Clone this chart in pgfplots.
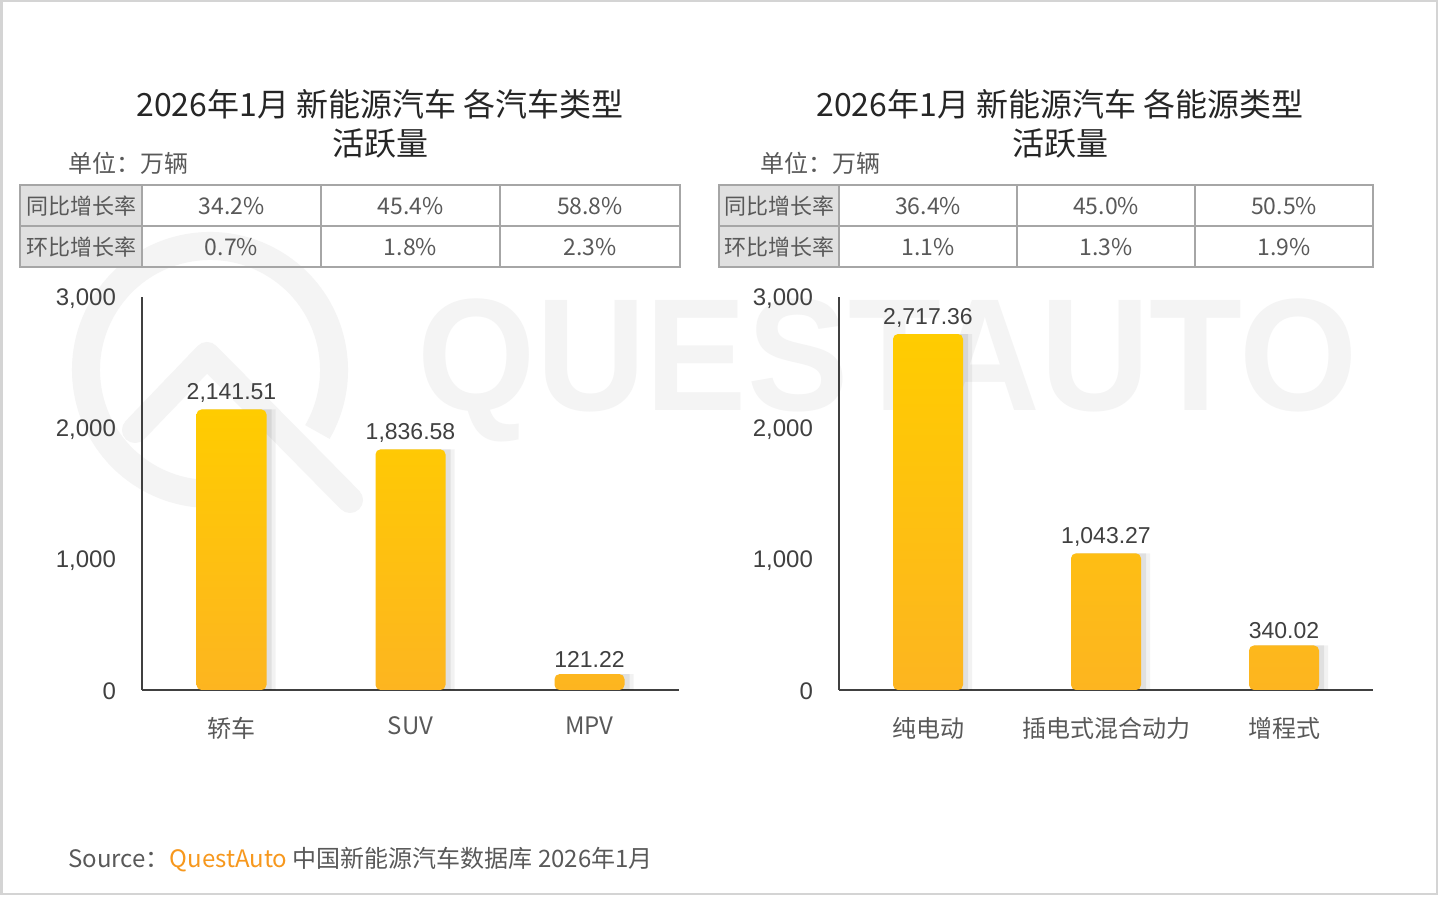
\documentclass[border=0pt]{standalone}
\usepackage{fontspec}
\usepackage{pgfplots}
\pgfplotsset{compat=1.18}
\setmainfont{Noto Sans CJK SC}
\newfontfamily\arial{Liberation Sans}
\definecolor{txt}{HTML}{595959}
\definecolor{dark}{HTML}{404040}
\definecolor{ttl}{HTML}{262626}
\definecolor{barTop}{HTML}{FFCC00}
\definecolor{barBot}{HTML}{FDB520}
\definecolor{qa}{HTML}{F7981D}
\definecolor{tline}{HTML}{A6A6A6}
\definecolor{thead}{HTML}{E0E0E0}
\definecolor{wm}{HTML}{F4F4F4}
\definecolor{frame}{HTML}{D4D4D4}

\pgfplotsset{
  chartax/.style={
    scale only axis, height=196.5pt, anchor=south west, clip=false,
    ymin=0, ymax=3000, xmin=-0.5, xmax=2.5,
    ytick={0,1000,2000,3000}, xtick={0,1,2},
    axis lines=left, axis line style={-, draw=dark, line width=0.75pt},
    major tick length=0pt,
    scaled y ticks=false,
    /pgf/number format/assume math mode=true,
    /pgf/number format/1000 sep={,},
    yticklabel style={font=\arial\fontsize{12pt}{14pt}\selectfont, text=dark, xshift=-9.5pt, yshift=-0.8pt},
    xticklabel style={font=\fontsize{12pt}{14pt}\selectfont, text=txt, yshift=-10pt},
    ybar, bar width=35pt,
  },
  shadowA/.style={fill=black, opacity=0.07, draw=none, bar shift=2.5pt, forget plot},
  shadowB/.style={fill=black, opacity=0.05, draw=none, bar shift=4.5pt, forget plot},
  mainbar/.style={draw=none, top color=barTop, bottom color=barBot, rounded corners=2.5pt, bar shift=0pt,
    nodes near coords={\pgfmathprintnumber[fixed,fixed zerofill,precision=2,1000 sep={,},assume math mode=true]{\pgfplotspointmeta}},
    every node near coord/.append style={font=\arial\fontsize{11.5pt}{13pt}\selectfont, text=dark}},
}

\begin{document}
\begin{tikzpicture}
\useasboundingbox (0,0) rectangle (720pt,448.5pt);
\fill[white] (0,0) rectangle (720pt,448.5pt);
\draw[frame, line width=1.2pt] (0.8pt,1.5pt) rectangle (718.6pt,448pt);

% watermark
\draw[wm, line width=14pt] (105pt,263.5pt) ++(-30:62pt) arc[start angle=-30, end angle=285, radius=62pt];
\draw[wm, line width=13pt, line cap=round, line join=round] (67.5pt,233.5pt) -- (103.5pt,271pt) -- (175pt,198.5pt);
\node[text=wm, font=\arial\bfseries\fontsize{80pt}{80pt}\selectfont, xscale=0.95] at (444pt,263.5pt) {QUESTAUTO};

% titles
\node[text=ttl, font=\fontsize{16pt}{19pt}\selectfont] at (190pt,396.5pt) {2026年1月 新能源汽车 各汽车类型};
\node[text=ttl, font=\fontsize{16pt}{19pt}\selectfont] at (190pt,377pt) {活跃量};
\node[text=ttl, font=\fontsize{16pt}{19pt}\selectfont] at (530pt,396.5pt) {2026年1月 新能源汽车 各能源类型};
\node[text=ttl, font=\fontsize{16pt}{19pt}\selectfont] at (530pt,377pt) {活跃量};
\node[text=txt, font=\fontsize{12pt}{14pt}\selectfont, anchor=west, inner sep=0pt] at (34pt,367pt) {单位：万辆};
\node[text=txt, font=\fontsize{12pt}{14pt}\selectfont, anchor=west, inner sep=0pt] at (380pt,367pt) {单位：万辆};

% left table
\fill[thead] (10pt,315pt) rectangle (71pt,356pt);
\draw[tline, line width=0.9pt] (10pt,315pt) rectangle (340pt,356pt);
\draw[tline, line width=0.9pt] (10pt,335.5pt) -- (340pt,335.5pt);
\foreach \x in {71,160.5,250} \draw[tline, line width=0.9pt] (\x pt,315pt) -- (\x pt,356pt);
\begin{scope}[every node/.style={text=txt, font=\fontsize{11.5pt}{13pt}\selectfont}]
\node[font=\fontsize{11pt}{13pt}\selectfont] at (40.5pt,345.5pt) {同比增长率};
\node[font=\fontsize{11pt}{13pt}\selectfont] at (40.5pt,325pt) {环比增长率};
\node at (115.75pt,345.5pt) {34.2\%};
\node at (205.25pt,345.5pt) {45.4\%};
\node at (295pt,345.5pt) {58.8\%};
\node at (115.75pt,325pt) {0.7\%};
\node at (205.25pt,325pt) {1.8\%};
\node at (295pt,325pt) {2.3\%};
\end{scope}

% right table
\fill[thead] (359.5pt,315pt) rectangle (419.5pt,356pt);
\draw[tline, line width=0.9pt] (359.5pt,315pt) rectangle (686.5pt,356pt);
\draw[tline, line width=0.9pt] (359.5pt,335.5pt) -- (686.5pt,335.5pt);
\foreach \x in {419.5,508.5,597.5} \draw[tline, line width=0.9pt] (\x pt,315pt) -- (\x pt,356pt);
\begin{scope}[every node/.style={text=txt, font=\fontsize{11.5pt}{13pt}\selectfont}]
\node[font=\fontsize{11pt}{13pt}\selectfont] at (389.5pt,345.5pt) {同比增长率};
\node[font=\fontsize{11pt}{13pt}\selectfont] at (389.5pt,325pt) {环比增长率};
\node at (464pt,345.5pt) {36.4\%};
\node at (553pt,345.5pt) {45.0\%};
\node at (642pt,345.5pt) {50.5\%};
\node at (464pt,325pt) {1.1\%};
\node at (553pt,325pt) {1.3\%};
\node at (642pt,325pt) {1.9\%};
\end{scope}

% left chart
\begin{axis}[chartax, at={(71pt,103.5pt)}, width=268.5pt, xticklabels={轿车,SUV,MPV}]
\addplot[shadowB] coordinates {(0,2141.51) (1,1836.58) (2,121.22)};
\addplot[shadowA] coordinates {(0,2141.51) (1,1836.58) (2,121.22)};
\addplot[mainbar] coordinates {(0,2141.51) (1,1836.58) (2,121.22)};
\end{axis}

% right chart
\begin{axis}[chartax, at={(419.5pt,103.5pt)}, width=267pt, xticklabels={纯电动,插电式混合动力,增程式}]
\addplot[shadowB] coordinates {(0,2717.36) (1,1043.27) (2,340.02)};
\addplot[shadowA] coordinates {(0,2717.36) (1,1043.27) (2,340.02)};
\addplot[mainbar] coordinates {(0,2717.36) (1,1043.27) (2,340.02)};
\end{axis}

% source
\node[anchor=west, inner sep=0pt, text=txt, font=\fontsize{12pt}{14pt}\selectfont] at (34pt,18.5pt) {Source：\textcolor{qa}{QuestAuto} 中国新能源汽车数据库 2026年1月};
\end{tikzpicture}
\end{document}
